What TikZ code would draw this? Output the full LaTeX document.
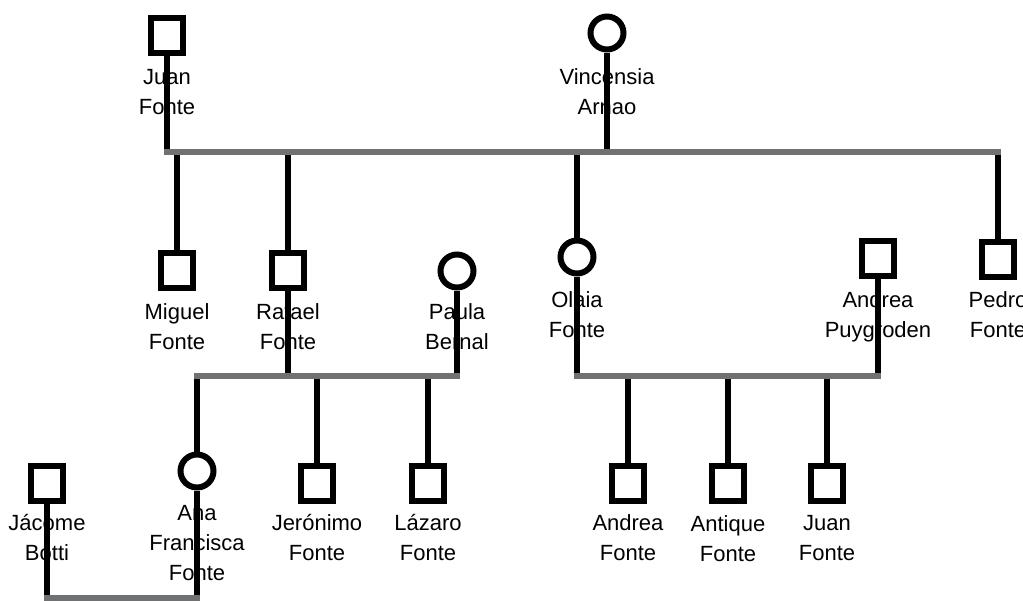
\documentclass[tikz,border=0pt]{standalone}
\usepackage{fontspec}
\setmainfont{Liberation Sans}
\usepackage{xcolor}
\usepackage{tikz}
\definecolor{kingray}{RGB}{112,113,115}

\begin{document}
\begin{tikzpicture}[line join=miter,x=1pt,y=-1pt,
	male/.style={draw=black,fill=white,line width=6pt,rectangle,minimum width=32pt,minimum height=35pt,inner sep=0pt},
	female/.style={draw=black,fill=white,line width=6pt,circle,minimum size=33pt,inner sep=0pt},
	kin/.style={draw=black,line width=6pt,line cap=butt},
	couple/.style={draw=kingray,line width=6pt,line cap=rect},
	who/.style={align=center,inner sep=0pt,font=\fontsize{22}{30}\selectfont}]
		\clip(0,0) rectangle (1023,600);
		\coordinate (g1) at (0,152);
		\coordinate (g2) at (0,376);
		\coordinate (g3) at (0,598);
	\node[who] (juanL) at (167,92) {Juan\\Fonte};
	\node[who] (vincL) at (607,92) {Vincensia\\Arnao};
	\node[who] (miguelL) at (177,327) {Miguel\\Fonte};
	\node[who] (rafaelL) at (288,327) {Rafael\\Fonte};
	\node[who] (paulaL) at (457,327) {Paula\\Bernal};
	\node[who] (olaiaL) at (577,315) {Olaia\\Fonte};
	\node[who] (andreaPL) at (878,317) {Andrea\\Puygroden};
	\node[who] (pedroL) at (998,315) {Pedro\\Fonte};
	\node[who] (jacomeL) at (47,537) {Jácome\\Botti};
	\node[who] (anaL) at (197,543) {Ana\\Francisca\\Fonte};
	\node[who] (jeronimoL) at (317,537) {Jerónimo\\Fonte};
	\node[who] (lazaroL) at (428,537) {Lázaro\\Fonte};
	\node[who] (andreaFL) at (628,538) {Andrea\\Fonte};
	\node[who] (antiqueL) at (728,539) {Antique\\Fonte};
	\node[who] (juanFL) at (827,538) {Juan\\Fonte};
	\node[male] (juan) at (167,35) {};
	\node[female] (vinc) at (607,33) {};
	\node[male] (miguel) at (177,270) {};
	\node[male] (rafael) at (288,270) {};
	\node[female] (paula) at (457,271) {};
	\node[female] (olaia) at (577,257) {};
	\node[male] (andreaP) at (878,258) {};
	\node[male] (pedro) at (998,259) {};
	\node[male] (jacome) at (47,483) {};
	\node[female] (ana) at (197,471) {};
	\node[male] (jeronimo) at (317,483) {};
	\node[male] (lazaro) at (428,483) {};
	\node[male] (andreaF) at (628,483) {};
	\node[male] (antique) at (728,483) {};
	\node[male] (juanF) at (827,483) {};
		\draw [kin] (juan)-- (juan |- g1);
		\draw [kin] (vinc)-- (vinc |- g1);
		\draw [kin] (miguel)-- (miguel |- g1);
		\draw [kin] (rafael)-- (rafael |- g1);
		\draw [kin] (olaia)-- (olaia |- g1);
		\draw [kin] (pedro)-- (pedro |- g1);
		\draw [kin] (rafael)-- (rafael |- g2);
		\draw [kin] (paula)-- (paula |- g2);
		\draw [kin] (ana)-- (ana |- g2);
		\draw [kin] (jeronimo)-- (jeronimo |- g2);
		\draw [kin] (lazaro)-- (lazaro |- g2);
		\draw [kin] (olaia)-- (olaia |- g2);
		\draw [kin] (andreaP)-- (andreaP |- g2);
		\draw [kin] (andreaF)-- (andreaF |- g2);
		\draw [kin] (antique)-- (antique |- g2);
		\draw [kin] (juanF)-- (juanF |- g2);
		\draw [kin] (jacome)-- (jacome |- g3);
		\draw [kin] (ana)-- (ana |- g3);
		\draw [couple] (juan |- g1)-- (pedro |- g1);
		\draw [couple] (ana |- g2)-- (paula |- g2);
		\draw [couple] (olaia |- g2)-- (andreaP |- g2);
		\draw [couple] (jacome |- g3)-- (ana |- g3);
\end{tikzpicture}
\end{document}
